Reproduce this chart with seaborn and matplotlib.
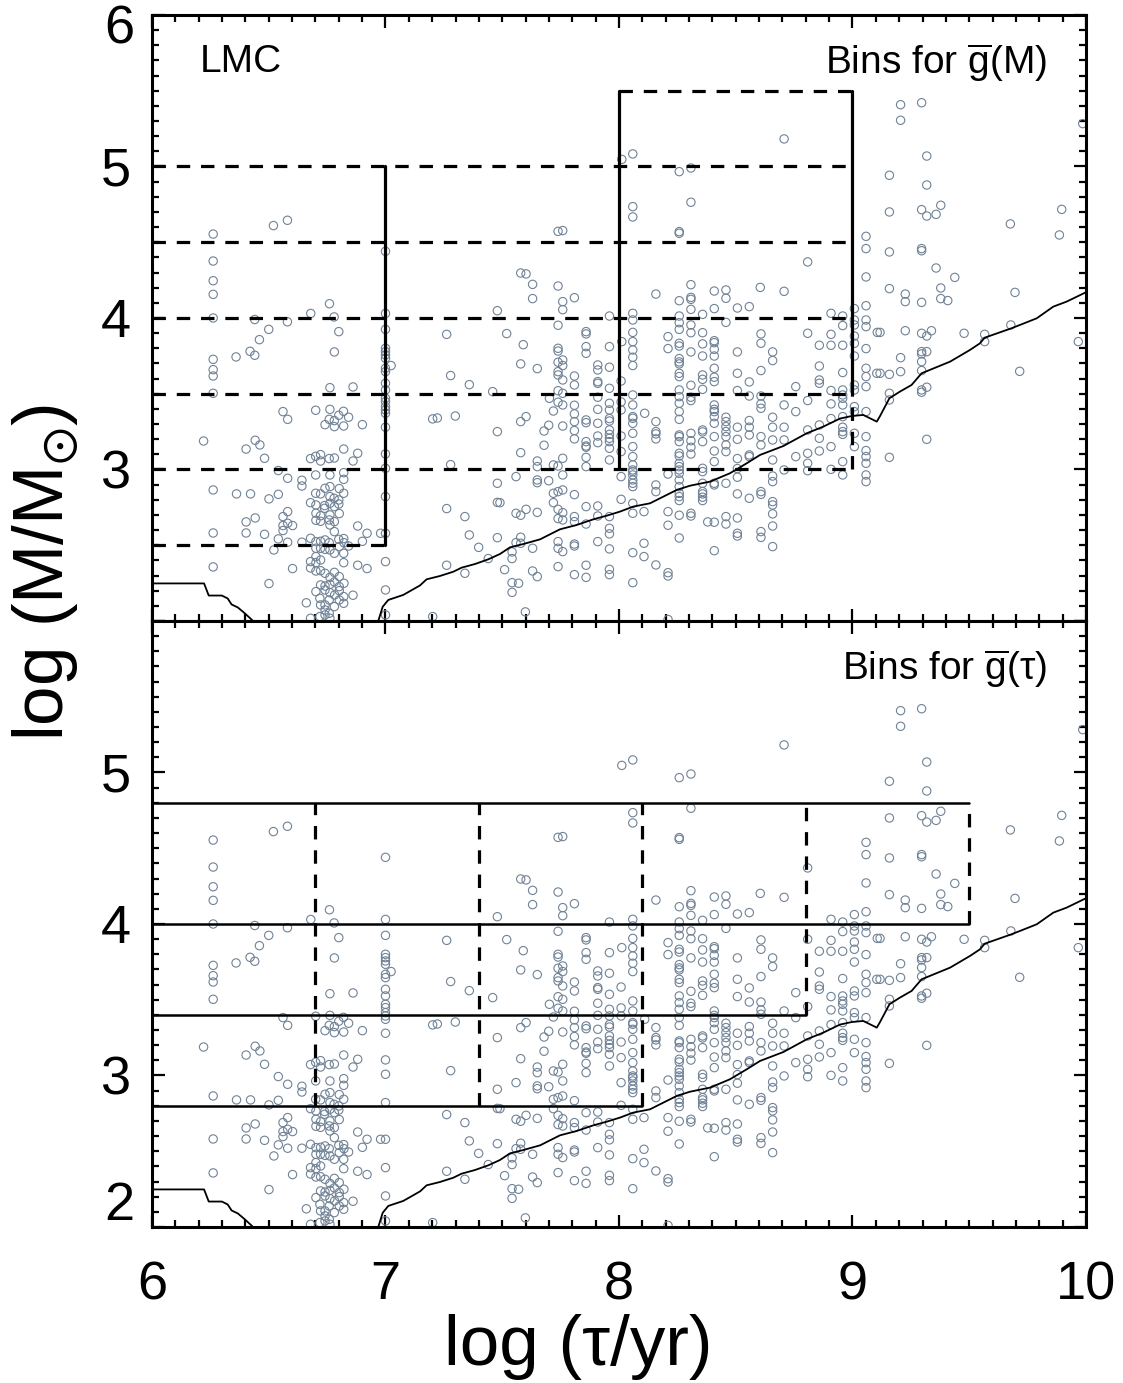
import numpy as np
import matplotlib
matplotlib.use("Agg")
import matplotlib.pyplot as plt
import seaborn as sns
from matplotlib.ticker import MultipleLocator

# ---------------- data ----------------
young_pts = [
    (6.262, 4.554), (6.52, 4.61), (6.58, 4.645), (7.0, 4.44), (6.262, 4.376), (6.262, 4.246),
    (6.262, 4.156), (6.262, 4.0), (6.44, 3.99), (6.50, 3.925), (6.46, 3.857), (6.58, 3.975),
    (6.68, 4.03), (6.76, 4.094), (6.78, 4.007), (6.80, 3.91), (7.0, 4.03), (7.0, 3.925),
    (6.42, 3.78), (6.44, 3.754), (6.36, 3.743), (6.262, 3.727), (6.262, 3.659), (6.262, 3.617),
    (6.262, 3.503), (6.781, 3.776),
    (7.0, 3.80), (7.0, 3.778), (7.0, 3.756), (7.0, 3.734), (7.0, 3.668), (7.0, 3.646), (7.0, 3.569),
    (7.0, 3.525), (7.0, 3.47), (7.0, 3.448), (7.0, 3.415), (7.0, 3.393), (7.0, 3.371), (7.0, 3.279),
    (7.0, 3.103), (7.0, 3.008), (7.0, 2.821), (7.0, 2.579), (7.0, 2.392), (7.0, 2.205), (7.0, 2.04),
    (7.024, 3.686), (6.762, 3.54), (6.861, 3.545), (6.561, 3.382), (6.581, 3.331), (6.701, 3.391),
    (6.762, 3.397), (6.80, 3.358), (6.82, 3.384), (6.759, 3.331), (6.781, 3.323), (6.741, 3.296),
    (6.781, 3.283), (6.821, 3.287), (6.842, 3.345), (6.901, 3.296), (6.221, 3.188), (6.442, 3.193),
    (6.403, 3.135), (6.462, 3.162), (6.482, 3.074), (6.679, 3.072), (6.701, 3.087), (6.722, 3.098),
    (6.722, 3.056), (6.759, 3.072), (6.781, 3.076), (6.821, 3.135), (6.881, 3.107), (6.861, 3.056),
    (6.541, 2.993), (6.581, 2.942), (6.701, 2.964), (6.762, 2.964), (6.821, 2.979), (6.821, 2.935),
    (6.642, 2.929), (6.642, 2.891), (6.262, 2.865), (6.362, 2.839), (6.422, 2.839), (6.501, 2.806),
    (6.541, 2.836), (6.701, 2.843), (6.741, 2.876), (6.762, 2.887), (6.802, 2.874), (6.821, 2.843),
    (6.722, 2.839), (6.679, 2.781), (6.702, 2.766), (6.739, 2.762), (6.739, 2.744), (6.762, 2.821),
    (6.762, 2.777), (6.781, 2.755), (6.80, 2.799), (6.80, 2.772), (6.78, 2.81), (6.581, 2.722),
    (6.561, 2.689), (6.403, 2.654), (6.442, 2.68), (6.702, 2.711), (6.722, 2.695), (6.762, 2.70),
    (6.802, 2.709), (6.702, 2.665), (6.722, 2.658), (6.759, 2.667), (6.762, 2.634), (6.781, 2.656),
    (6.561, 2.63), (6.581, 2.645), (6.561, 2.597), (6.602, 2.63), (6.262, 2.581), (6.403, 2.581),
    (6.482, 2.572), (6.781, 2.59), (6.881, 2.627), (6.921, 2.579), (6.979, 2.579), (6.541, 2.542),
    (6.581, 2.52), (6.642, 2.52),
    (6.679, 2.546), (6.702, 2.524), (6.722, 2.526), (6.741, 2.535), (6.759, 2.517), (6.80, 2.539),
    (6.821, 2.544), (6.822, 2.517), (6.842, 2.495), (6.802, 2.491), (6.901, 2.526), (6.522, 2.469),
    (6.702, 2.48), (6.722, 2.48), (6.741, 2.473), (6.762, 2.469), (6.781, 2.447), (6.702, 2.425),
    (6.821, 2.447), (6.679, 2.392), (6.702, 2.385), (6.722, 2.403), (6.821, 2.385),
    (6.679, 2.35), (6.702, 2.33), (6.722, 2.332), (6.741, 2.315), (6.781, 2.321), (6.802, 2.293),
    (6.762, 2.288), (6.602, 2.346), (6.881, 2.368), (6.921, 2.346), (6.262, 2.357), (6.501, 2.247),
    (6.722, 2.238), (6.741, 2.231), (6.762, 2.242), (6.781, 2.258), (6.802, 2.227), (6.822, 2.249),
    (6.702, 2.194), (6.741, 2.205), (6.762, 2.187), (6.782, 2.172), (6.802, 2.20), (6.821, 2.161),
    (6.861, 2.17), (6.719, 2.15), (6.759, 2.139), (6.802, 2.139), (6.821, 2.117), (6.781, 2.095),
    (6.741, 2.106), (6.661, 2.12), (6.722, 2.106), (6.741, 2.073), (6.759, 2.051), (6.741, 2.04),
    (6.719, 2.029), (6.679, 2.018), (6.762, 2.018),
]

mid_pts = [
    (8.012, 5.047), (8.059, 5.083), (8.059, 4.735), (8.059, 4.667), (7.739, 4.572), (7.759, 4.577),
    (7.579, 4.297), (7.602, 4.291), (7.63, 4.222), (7.739, 4.211), (7.63, 4.128), (7.759, 4.108),
    (7.759, 4.055), (7.809, 4.134), (7.479, 4.048), (7.959, 4.013), (8.059, 4.031), (8.059, 3.987),
    (7.262, 3.892), (7.519, 3.897), (7.739, 3.952), (7.859, 3.91), (7.859, 3.895), (8.012, 3.844),
    (8.059, 3.905),
    (7.59, 3.824), (7.739, 3.80), (7.739, 3.782), (7.859, 3.811), (7.859, 3.767), (7.959, 3.811),
    (8.059, 3.844), (8.059, 3.789), (8.059, 3.741), (8.059, 3.686),
    (7.579, 3.697), (7.65, 3.666), (7.739, 3.708), (7.759, 3.723), (7.759, 3.686), (7.739, 3.646),
    (7.739, 3.624), (7.759, 3.591), (7.809, 3.617), (7.809, 3.558),
    (7.909, 3.69), (7.909, 3.657), (7.909, 3.58), (7.909, 3.569), (7.959, 3.675), (7.959, 3.536),
    (8.009, 3.584), (7.279, 3.62), (7.359, 3.56), (7.459, 3.514), (7.739, 3.52), (7.702, 3.47),
    (7.759, 3.503), (7.759, 3.426), (7.739, 3.444), (7.719, 3.386),
    (7.809, 3.424), (7.809, 3.367), (7.809, 3.316), (7.809, 3.257), (7.809, 3.202),
    (7.859, 3.327), (7.859, 3.309), (7.859, 3.184), (7.859, 3.155), (7.859, 3.147), (7.859, 3.08),
    (7.859, 3.019),
    (7.909, 3.477), (7.909, 3.397), (7.909, 3.305), (7.909, 3.221), (7.909, 3.177),
    (7.959, 3.437), (7.959, 3.393), (7.959, 3.336), (7.959, 3.32), (7.959, 3.261), (7.959, 3.232),
    (7.959, 3.206), (7.959, 3.184), (7.959, 3.14), (7.959, 3.063),
    (8.009, 3.446), (8.009, 3.393), (8.009, 3.221), (8.009, 3.118), (8.009, 2.953),
    (8.059, 3.492), (8.059, 3.426), (8.059, 3.349), (8.059, 3.338), (8.059, 3.305), (8.059, 3.239),
    (8.059, 3.151), (8.059, 3.085), (8.059, 3.03), (8.059, 2.997), (8.059, 2.986), (8.059, 2.964),
    (8.059, 2.931), (8.059, 2.909), (8.059, 2.887), (8.059, 2.777), (8.059, 2.711),
    (8.11, 3.371), (7.202, 3.334), (7.222, 3.34), (7.299, 3.353), (7.479, 3.25), (7.579, 3.316),
    (7.602, 3.349), (7.699, 3.292), (7.759, 3.287), (7.679, 3.254), (7.679, 3.16), (7.579, 3.111),
    (7.65, 3.056), (7.65, 3.019), (7.279, 3.032), (7.719, 3.03), (7.739, 3.023), (7.759, 3.074),
    (7.759, 2.964), (7.65, 2.931), (7.65, 2.913), (7.699, 2.926), (7.559, 2.953), (7.479, 2.909),
    (7.719, 2.843), (7.739, 2.854), (7.759, 2.865), (7.809, 2.834), (7.719, 2.781), (7.739, 2.737),
    (7.759, 2.715), (7.759, 2.667), (7.739, 2.676), (7.479, 2.783), (7.49, 2.781), (7.262, 2.742),
    (7.34, 2.689), (7.559, 2.711), (7.579, 2.698), (7.602, 2.737), (7.65, 2.717), (7.809, 2.689),
    (7.809, 2.656), (7.859, 2.755), (7.859, 2.64), (7.909, 2.759), (7.909, 2.693),
    (7.959, 2.689), (7.959, 2.612), (7.959, 2.575), (7.959, 2.476),
    (8.009, 2.803), (8.107, 2.722), (8.107, 2.513), (8.107, 2.425), (7.359, 2.568), (7.399, 2.486),
    (7.44, 2.412), (7.479, 2.55), (7.559, 2.517), (7.579, 2.553), (7.579, 2.513), (7.542, 2.456),
    (7.542, 2.412), (7.63, 2.48), (7.739, 2.524), (7.739, 2.48), (7.759, 2.458), (7.809, 2.508),
    (7.809, 2.495), (7.909, 2.524), (8.059, 2.451), (7.262, 2.368), (7.34, 2.315), (7.51, 2.339),
    (7.63, 2.33), (7.65, 2.293), (7.739, 2.359), (7.809, 2.306), (7.859, 2.368), (7.859, 2.288),
    (7.959, 2.341), (7.959, 2.306), (7.542, 2.253), (7.57, 2.249), (7.542, 2.189), (8.059, 2.253),
    (7.599, 2.06), (7.202, 2.029),
]

old_pts = [
    (8.707, 5.182), (8.258, 4.966), (8.308, 4.99), (8.308, 4.764), (8.258, 4.57), (8.258, 4.559),
    (9.058, 4.539), (9.058, 4.458), (9.058, 4.271), (9.058, 4.081), (9.058, 3.987), (9.058, 3.943),
    (8.808, 4.37), (8.158, 4.158), (8.308, 4.22), (8.308, 4.136), (8.308, 4.123), (8.308, 4.057),
    (8.258, 4.114), (8.408, 4.178), (8.458, 4.185), (8.458, 4.13), (8.408, 4.062), (8.507, 4.066),
    (8.558, 4.075), (8.605, 4.202), (8.707, 4.176), (8.358, 4.024), (8.258, 4.013), (8.258, 3.969),
    (8.258, 3.925), (8.308, 3.954), (8.308, 3.903), (8.458, 3.971), (8.908, 4.031), (8.958, 4.013),
    (8.958, 3.95), (9.008, 4.062), (9.008, 3.987), (9.008, 3.954), (9.008, 3.881), (9.106, 3.905),
    (8.21, 3.877), (8.358, 3.903), (8.408, 3.85), (8.608, 3.895), (8.808, 3.899), (8.908, 3.892),
    (8.21, 3.798),
    (8.258, 3.833), (8.258, 3.815), (8.258, 3.732), (8.258, 3.71), (8.258, 3.697), (8.258, 3.635),
    (8.258, 3.613), (8.258, 3.525), (8.258, 3.481), (8.258, 3.437), (8.258, 3.382), (8.258, 3.331),
    (8.258, 3.228), (8.258, 3.217), (8.258, 3.184), (8.258, 3.107), (8.258, 3.089), (8.258, 3.041),
    (8.258, 3.019), (8.258, 2.997), (8.258, 2.975), (8.258, 2.931), (8.258, 2.887), (8.258, 2.843),
    (8.258, 2.821), (8.258, 2.795), (8.258, 2.698), (8.258, 2.548),
    (8.308, 3.776), (8.308, 3.556), (8.308, 3.477), (8.308, 3.455), (8.308, 3.239), (8.308, 3.19),
    (8.308, 3.147), (8.308, 3.102), (8.308, 2.711), (8.308, 2.693),
    (8.358, 3.829), (8.358, 3.749), (8.358, 3.624), (8.358, 3.595), (8.358, 3.529), (8.358, 3.261),
    (8.358, 3.248), (8.358, 3.184), (8.358, 3.008), (8.358, 2.986), (8.358, 2.909), (8.358, 2.854),
    (8.358, 2.839), (8.358, 2.817), (8.358, 2.795),
    (8.408, 3.837), (8.408, 3.793), (8.408, 3.749), (8.408, 3.668), (8.408, 3.609), (8.408, 3.58),
    (8.408, 3.426), (8.408, 3.397), (8.408, 3.382), (8.408, 3.349), (8.408, 3.305), (8.408, 3.217),
    (8.408, 3.122), (8.408, 3.052), (8.408, 2.909), (8.408, 2.898), (8.408, 2.652), (8.408, 2.464),
    (8.38, 2.654),
    (8.458, 3.345), (8.458, 3.316), (8.458, 3.283), (8.458, 3.25), (8.458, 3.217), (8.458, 3.162),
    (8.458, 3.118), (8.458, 2.909), (8.458, 2.689), (8.458, 2.64),
    (8.507, 3.776), (8.507, 3.635), (8.507, 3.521), (8.507, 3.279), (8.507, 3.199), (8.507, 3.072),
    (8.507, 3.006), (8.507, 2.949), (8.507, 2.839), (8.507, 2.68), (8.507, 2.579), (8.507, 2.561),
    (8.558, 3.578), (8.558, 3.485), (8.558, 3.323), (8.558, 3.279), (8.558, 3.228), (8.558, 3.096),
    (8.558, 3.085), (8.558, 2.81),
    (8.608, 3.833), (8.608, 3.653), (8.608, 3.485), (8.608, 3.433), (8.608, 3.404), (8.608, 3.217),
    (8.608, 3.162), (8.608, 2.854), (8.608, 2.836), (8.608, 2.59), (8.608, 2.552),
    (8.658, 3.776), (8.658, 3.719), (8.658, 3.345), (8.658, 3.279), (8.658, 3.195), (8.658, 3.063),
    (8.658, 2.957), (8.658, 2.92), (8.658, 2.788), (8.658, 2.766), (8.658, 2.707), (8.658, 2.627),
    (8.658, 2.491),
    (8.707, 3.426), (8.707, 3.279), (8.707, 3.195), (8.707, 2.997),
    (8.757, 3.547), (8.757, 3.382), (8.757, 3.085),
    (8.808, 3.455), (8.808, 3.261), (8.808, 3.107), (8.808, 3.041), (8.808, 2.992),
    (8.858, 3.82), (8.858, 3.683), (8.858, 3.591), (8.858, 3.569), (8.858, 3.294), (8.858, 3.206),
    (8.858, 3.122),
    (8.908, 3.82), (8.908, 3.521), (8.908, 3.433), (8.908, 3.336), (8.908, 3.151), (8.908, 3.001),
    (8.958, 3.82), (8.958, 3.64), (8.958, 3.525), (8.958, 3.492), (8.958, 3.47), (8.958, 3.426),
    (8.958, 3.349), (8.958, 3.279), (8.958, 3.25), (8.958, 3.232), (8.958, 3.052), (8.958, 2.964),
    (9.008, 3.833), (9.008, 3.749), (9.008, 3.558), (9.008, 3.525), (9.008, 3.415), (9.008, 3.382),
    (9.008, 3.239), (9.008, 3.151),
    (9.058, 3.798), (9.058, 3.668), (9.058, 3.613), (9.058, 3.547), (9.058, 3.382), (9.058, 3.217),
    (9.058, 3.125), (9.058, 3.085), (9.058, 3.041), (9.058, 2.964), (9.058, 2.92),
    (9.104, 3.635),
    (8.158, 3.316), (8.158, 3.25), (8.158, 3.235), (8.158, 3.202), (8.158, 2.898), (8.158, 2.854),
    (8.158, 2.37), (8.21, 2.97), (8.21, 2.722), (8.21, 2.632), (8.21, 2.319), (8.21, 2.297),
    (8.21, 2.01),
]

oldest_pts = [
    (9.206, 5.408), (9.296, 5.421), (9.206, 5.305), (9.318, 5.069), (9.158, 4.942), (9.318, 4.878),
    (9.158, 4.70), (9.296, 4.715), (9.318, 4.673), (9.358, 4.684), (9.378, 4.744), (9.896, 4.717),
    (9.676, 4.621), (9.886, 4.548), (9.158, 4.436), (9.296, 4.458), (9.296, 4.444), (9.358, 4.33),
    (9.438, 4.268), (9.158, 4.194), (9.226, 4.158), (9.226, 4.108), (9.296, 4.103), (9.378, 4.198),
    (9.378, 4.128), (9.408, 4.115), (9.696, 4.169), (9.118, 3.905), (9.226, 3.916), (9.296, 3.899),
    (9.318, 3.881), (9.338, 3.916), (9.478, 3.899), (9.566, 3.892), (9.678, 3.954), (9.986, 5.283),
    (9.118, 3.635), (9.158, 3.628), (9.206, 3.646), (9.206, 3.738), (9.296, 3.778), (9.318, 3.778),
    (9.296, 3.763), (9.296, 3.712), (9.296, 3.653), (9.158, 3.503), (9.158, 3.459), (9.296, 3.525),
    (9.296, 3.51), (9.318, 3.543), (9.318, 3.199), (9.158, 3.08), (9.716, 3.648), (9.566, 3.844),
    (9.967, 3.844),
]

# detection-limit curve (two visible pieces)
limit_age_young = [6.0, 6.223, 6.243, 6.299, 6.324, 6.341, 6.368, 6.398, 6.433]
limit_mass_young = [2.248, 2.248, 2.168, 2.168, 2.149, 2.109, 2.089, 2.05, 2.0]
limit_age_old = [6.969, 6.988, 7.012, 7.076, 7.148, 7.176, 7.233, 7.29, 7.326, 7.383, 7.44, 7.49,
                 7.533, 7.59, 7.662, 7.747, 7.819, 7.89, 7.947, 8.004, 8.061, 8.133, 8.19, 8.247,
                 8.304, 8.39, 8.475, 8.547, 8.604, 8.704, 8.804, 8.875, 8.946, 8.997, 9.046, 9.104,
                 9.118, 9.158, 9.203, 9.253, 9.296, 9.418, 9.503, 9.546, 9.566, 9.677, 9.717,
                 9.789, 9.86, 9.917, 10.0]
limit_mass_old = [2.0, 2.094, 2.139, 2.172, 2.235, 2.275, 2.297, 2.325, 2.352, 2.376, 2.407, 2.442,
                  2.486, 2.508, 2.539, 2.605, 2.634, 2.671, 2.695, 2.722, 2.755, 2.777, 2.821, 2.865,
                  2.893, 2.92, 2.975, 3.041, 3.096, 3.155, 3.239, 3.283, 3.336, 3.353, 3.36, 3.316,
                  3.353, 3.47, 3.514, 3.558, 3.635, 3.712, 3.789, 3.833, 3.87, 3.93, 3.954,
                  3.998, 4.075, 4.108, 4.17]

# bins for g(M): (y, x_start, x_end) and (x, y_start, y_end)
massbin_dashed_h = [(2.5, 6.0, 7.0), (3.0, 6.0, 9.0), (3.5, 6.0, 9.0), (4.0, 6.0, 9.0),
                    (4.5, 6.0, 9.0), (5.0, 6.0, 9.0), (5.5, 8.0, 9.0)]
massbin_solid_v = [(7.0, 2.5, 5.0), (8.0, 3.0, 5.5), (9.0, 3.5, 5.5)]
massbin_dashed_v = [(9.0, 3.0, 3.5)]

# bins for g(tau)
agebin_solid_h = [(4.8, 6.0, 9.5), (4.0, 6.0, 9.5), (3.4, 6.0, 8.8), (2.8, 6.0, 8.1)]
agebin_dashed_v = [(6.7, 2.8, 4.8), (7.4, 2.8, 4.8), (8.1, 2.8, 4.8), (8.8, 3.4, 4.8), (9.5, 4.0, 4.8)]

x_ticks = [6, 7, 8, 9, 10]
y_ticks = [2, 3, 4, 5, 6]
top_ylabels = ["", "3", "4", "5", ""]
bot_ylabels = ["", "3", "4", "5", ""]
top_edge_label = "6"
bottom_edge_label = "2"

# ---------------- figure ----------------
sns.set_theme(style="ticks")
plt.rcParams["font.family"] = ["Liberation Sans", "DejaVu Sans"]
plt.rcParams["mathtext.fontset"] = "custom"
plt.rcParams["mathtext.rm"] = "Liberation Sans"
plt.rcParams["mathtext.it"] = "Liberation Sans:italic"
plt.rcParams["mathtext.fallback"] = "stixsans"
for key in ["text.color", "axes.labelcolor", "xtick.color", "ytick.color", "axes.edgecolor"]:
    plt.rcParams[key] = "black"

all_pts = young_pts + mid_pts + old_pts + oldest_pts
age = np.array([p[0] for p in all_pts])
mass = np.array([p[1] for p in all_pts])

fig = plt.figure(figsize=(11.23, 13.83), dpi=100)
ax1 = fig.add_axes([0.13535, 0.55098, 0.83170, 0.43818])
ax2 = fig.add_axes([0.13535, 0.11280, 0.83170, 0.43818])

pt_color = "#708296"
dash = (0, (4.2, 3.4))

for ax in (ax1, ax2):
    sns.scatterplot(x=age, y=mass, ax=ax, s=36, facecolor="none", edgecolor=pt_color,
                    linewidth=0.8, legend=False, zorder=2)
    sns.lineplot(x=limit_age_young, y=limit_mass_young, ax=ax, sort=False, estimator=None,
                 color="black", linewidth=1.3, zorder=3)
    sns.lineplot(x=limit_age_old, y=limit_mass_old, ax=ax, sort=False, estimator=None,
                 color="black", linewidth=1.3, zorder=3)
    ax.set_xlim(6, 10)
    ax.set_ylim(2, 6)
    ax.set_xticks(x_ticks)
    ax.set_yticks(y_ticks)
    ax.xaxis.set_minor_locator(MultipleLocator(0.1))
    ax.yaxis.set_minor_locator(MultipleLocator(0.1))
    ax.tick_params(which="both", direction="in", top=True, right=True, width=1.6, color="black")
    ax.tick_params(which="major", length=9)
    ax.tick_params(which="minor", length=4.7)
    ax.tick_params(axis="y", labelsize=39, pad=15, labelcolor="black")
    ax.tick_params(axis="x", labelsize=39, pad=24, labelcolor="black")
    for sp in ax.spines.values():
        sp.set_linewidth(2.2)
        sp.set_color("black")
    ax.set_xlabel("")
    ax.set_ylabel("")
    ax.grid(False)

# top panel bins
for y, x0, x1 in massbin_dashed_h:
    ax1.plot([x0, x1], [y, y], color="black", lw=2.3, linestyle=dash, zorder=4)
for x, y0, y1 in massbin_solid_v:
    ax1.plot([x, x], [y0, y1], color="black", lw=2.3, zorder=4)
for x, y0, y1 in massbin_dashed_v:
    ax1.plot([x, x], [y0, y1], color="black", lw=2.3, linestyle=dash, zorder=4)

# bottom panel bins
for y, x0, x1 in agebin_solid_h:
    ax2.plot([x0, x1], [y, y], color="black", lw=1.8, zorder=4)
for x, y0, y1 in agebin_dashed_v:
    ax2.plot([x, x], [y0, y1], color="black", lw=2.3, linestyle=dash, zorder=4)

ax1.set_xticklabels([])
ax1.set_yticklabels(top_ylabels)
ax2.set_xticklabels([str(v) for v in x_ticks])
ax2.set_yticklabels(bot_ylabels)

# edge tick labels nudged inside the figure as in the original
ax1.annotate(top_edge_label, xy=(0, 6), xycoords=("axes fraction", "data"),
             xytext=(-12.5, -10.8), textcoords="offset points", ha="right", va="center",
             fontsize=39)
ax2.annotate(bottom_edge_label, xy=(0, 2), xycoords=("axes fraction", "data"),
             xytext=(-12.5, 14.8), textcoords="offset points", ha="right", va="center",
             fontsize=39)

ax1.text(0.0514, 0.922, "LMC", transform=ax1.transAxes, fontsize=28, ha="left", va="center")
ax1.text(0.958, 0.922, r"Bins for $\overline{\mathrm{g}}$(M)", transform=ax1.transAxes,
         fontsize=28, ha="right", va="center")
ax2.text(0.958, 0.922, "Bins for $\\overline{\\mathrm{g}}$(\u03c4)", transform=ax2.transAxes,
         fontsize=28, ha="right", va="center")

fig.text(578 / 1123, 1 - 1347 / 1383, "log (\u03c4/yr)", fontsize=51, ha="center", va="center")
fig.text(45 / 1123, 1 - 572 / 1383, r"log (M/M$_{\odot}$)", fontsize=51, ha="center",
         va="center", rotation=90)

fig.savefig("out.png", dpi=100)
